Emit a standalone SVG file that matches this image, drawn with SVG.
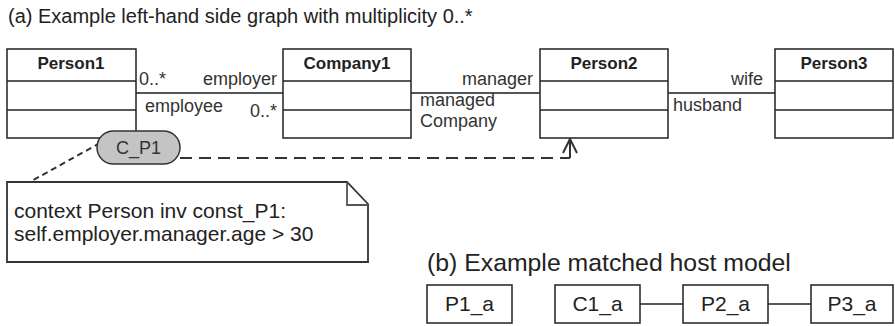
<svg xmlns="http://www.w3.org/2000/svg" width="895" height="326" viewBox="0 0 895 326">
  <style>
    .box { fill: #ffffff; stroke: #222222; stroke-width: 1.5; }
    .sep { stroke: #222222; stroke-width: 1.5; }
    .assoc { stroke: #555555; stroke-width: 2; fill: none; }
    .cname { font-family: "Liberation Sans", Arial, sans-serif; font-size: 17px; font-weight: bold; fill: #222222; text-anchor: middle; }
    .lbl { font-family: "Liberation Sans", Arial, sans-serif; font-size: 18px; fill: #333333; }
    .title { font-family: "Liberation Sans", Arial, sans-serif; font-size: 20px; fill: #222222; }
    .title-b { font-family: "Liberation Sans", Arial, sans-serif; font-size: 24.8px; fill: #222222; }
    .note { font-family: "Liberation Sans", Arial, sans-serif; font-size: 21px; fill: #222222; }
    .inst { font-family: "Liberation Sans", Arial, sans-serif; font-size: 21px; fill: #222222; text-anchor: middle; }
    .dash { stroke: #333333; stroke-width: 2; fill: none; }
  </style>

  <text class="title" x="8" y="23">(a) Example left-hand side graph with multiplicity 0..*</text>

  <!-- associations and dependency lines -->
  <g id="connectors">
    <line class="assoc" x1="136" y1="93" x2="283" y2="93"/>
    <line class="assoc" x1="411" y1="93" x2="540" y2="93"/>
    <line class="assoc" x1="668" y1="93" x2="775" y2="93"/>
    <!-- constraint to note -->
    <line class="dash" x1="100" y1="143" x2="28" y2="183" stroke-dasharray="6,4"/>
    <!-- constraint to Person2 -->
    <path class="dash" d="M180,158 H570" stroke-dasharray="12,7"/>
    <path class="dash" d="M570,158 V139"/>
    <path class="dash" d="M563,153 L570,139 L577,153"/>
    <!-- host model links -->
    <line class="sep" x1="640" y1="304" x2="683" y2="304"/>
    <line class="sep" x1="768" y1="304" x2="811" y2="304"/>
  </g>

  <text class="lbl" x="139" y="85">0..*</text>
  <text class="lbl" x="277" y="85" text-anchor="end">employer</text>
  <text class="lbl" x="145" y="112">employee</text>
  <text class="lbl" x="250" y="117">0..*</text>
  <text class="lbl" x="533" y="85" text-anchor="end">manager</text>
  <text class="lbl" x="420" y="106">managed</text>
  <text class="lbl" x="420" y="127">Company</text>
  <text class="lbl" x="763" y="85" text-anchor="end">wife</text>
  <text class="lbl" x="673" y="111">husband</text>

  <g id="Person1">
    <rect class="box" x="7" y="49" width="129" height="89"/>
    <line class="sep" x1="7" y1="81" x2="136" y2="81"/>
    <line class="sep" x1="7" y1="110" x2="136" y2="110"/>
    <text class="cname" x="71" y="69">Person1</text>
  </g>
  <g id="Company1">
    <rect class="box" x="283" y="49" width="128" height="89"/>
    <line class="sep" x1="283" y1="81" x2="411" y2="81"/>
    <line class="sep" x1="283" y1="110" x2="411" y2="110"/>
    <text class="cname" x="347" y="69">Company1</text>
  </g>
  <g id="Person2">
    <rect class="box" x="540" y="49" width="128" height="89"/>
    <line class="sep" x1="540" y1="81" x2="668" y2="81"/>
    <line class="sep" x1="540" y1="110" x2="668" y2="110"/>
    <text class="cname" x="604" y="69">Person2</text>
  </g>
  <g id="Person3">
    <rect class="box" x="775" y="49" width="118" height="89"/>
    <line class="sep" x1="775" y1="81" x2="893" y2="81"/>
    <line class="sep" x1="775" y1="110" x2="893" y2="110"/>
    <text class="cname" x="834" y="69">Person3</text>
  </g>

  <g id="C_P1">
    <rect x="97" y="131" width="83" height="33" rx="16.5" fill="#c4c4c4" stroke="#333333" stroke-width="1.5"/>
    <text class="lbl" x="138.5" y="154" text-anchor="middle" fill="#222222">C_P1</text>
  </g>

  <g id="note">
    <path d="M7,182 H347 L368,204 V262 H7 Z" fill="#ffffff" stroke="#333333" stroke-width="1.8"/>
    <path d="M347,182 V205 H368" fill="none" stroke="#555555" stroke-width="1.8"/>
    <text class="note" x="14" y="218">context Person inv const_P1:</text>
    <text class="note" x="14" y="241">self.employer.manager.age &gt; 30</text>
  </g>

  <text class="title-b" x="427" y="271">(b) Example matched host model</text>

  <g id="P1_a">
    <rect class="box" x="427" y="285" width="85" height="38"/>
    <text class="inst" x="469.5" y="311">P1_a</text>
  </g>
  <g id="C1_a">
    <rect class="box" x="555" y="285" width="85" height="38"/>
    <text class="inst" x="597.5" y="311">C1_a</text>
  </g>
  <g id="P2_a">
    <rect class="box" x="683" y="285" width="85" height="38"/>
    <text class="inst" x="725.5" y="311">P2_a</text>
  </g>
  <g id="P3_a">
    <rect class="box" x="811" y="285" width="82" height="38"/>
    <text class="inst" x="852" y="311">P3_a</text>
  </g>
</svg>
